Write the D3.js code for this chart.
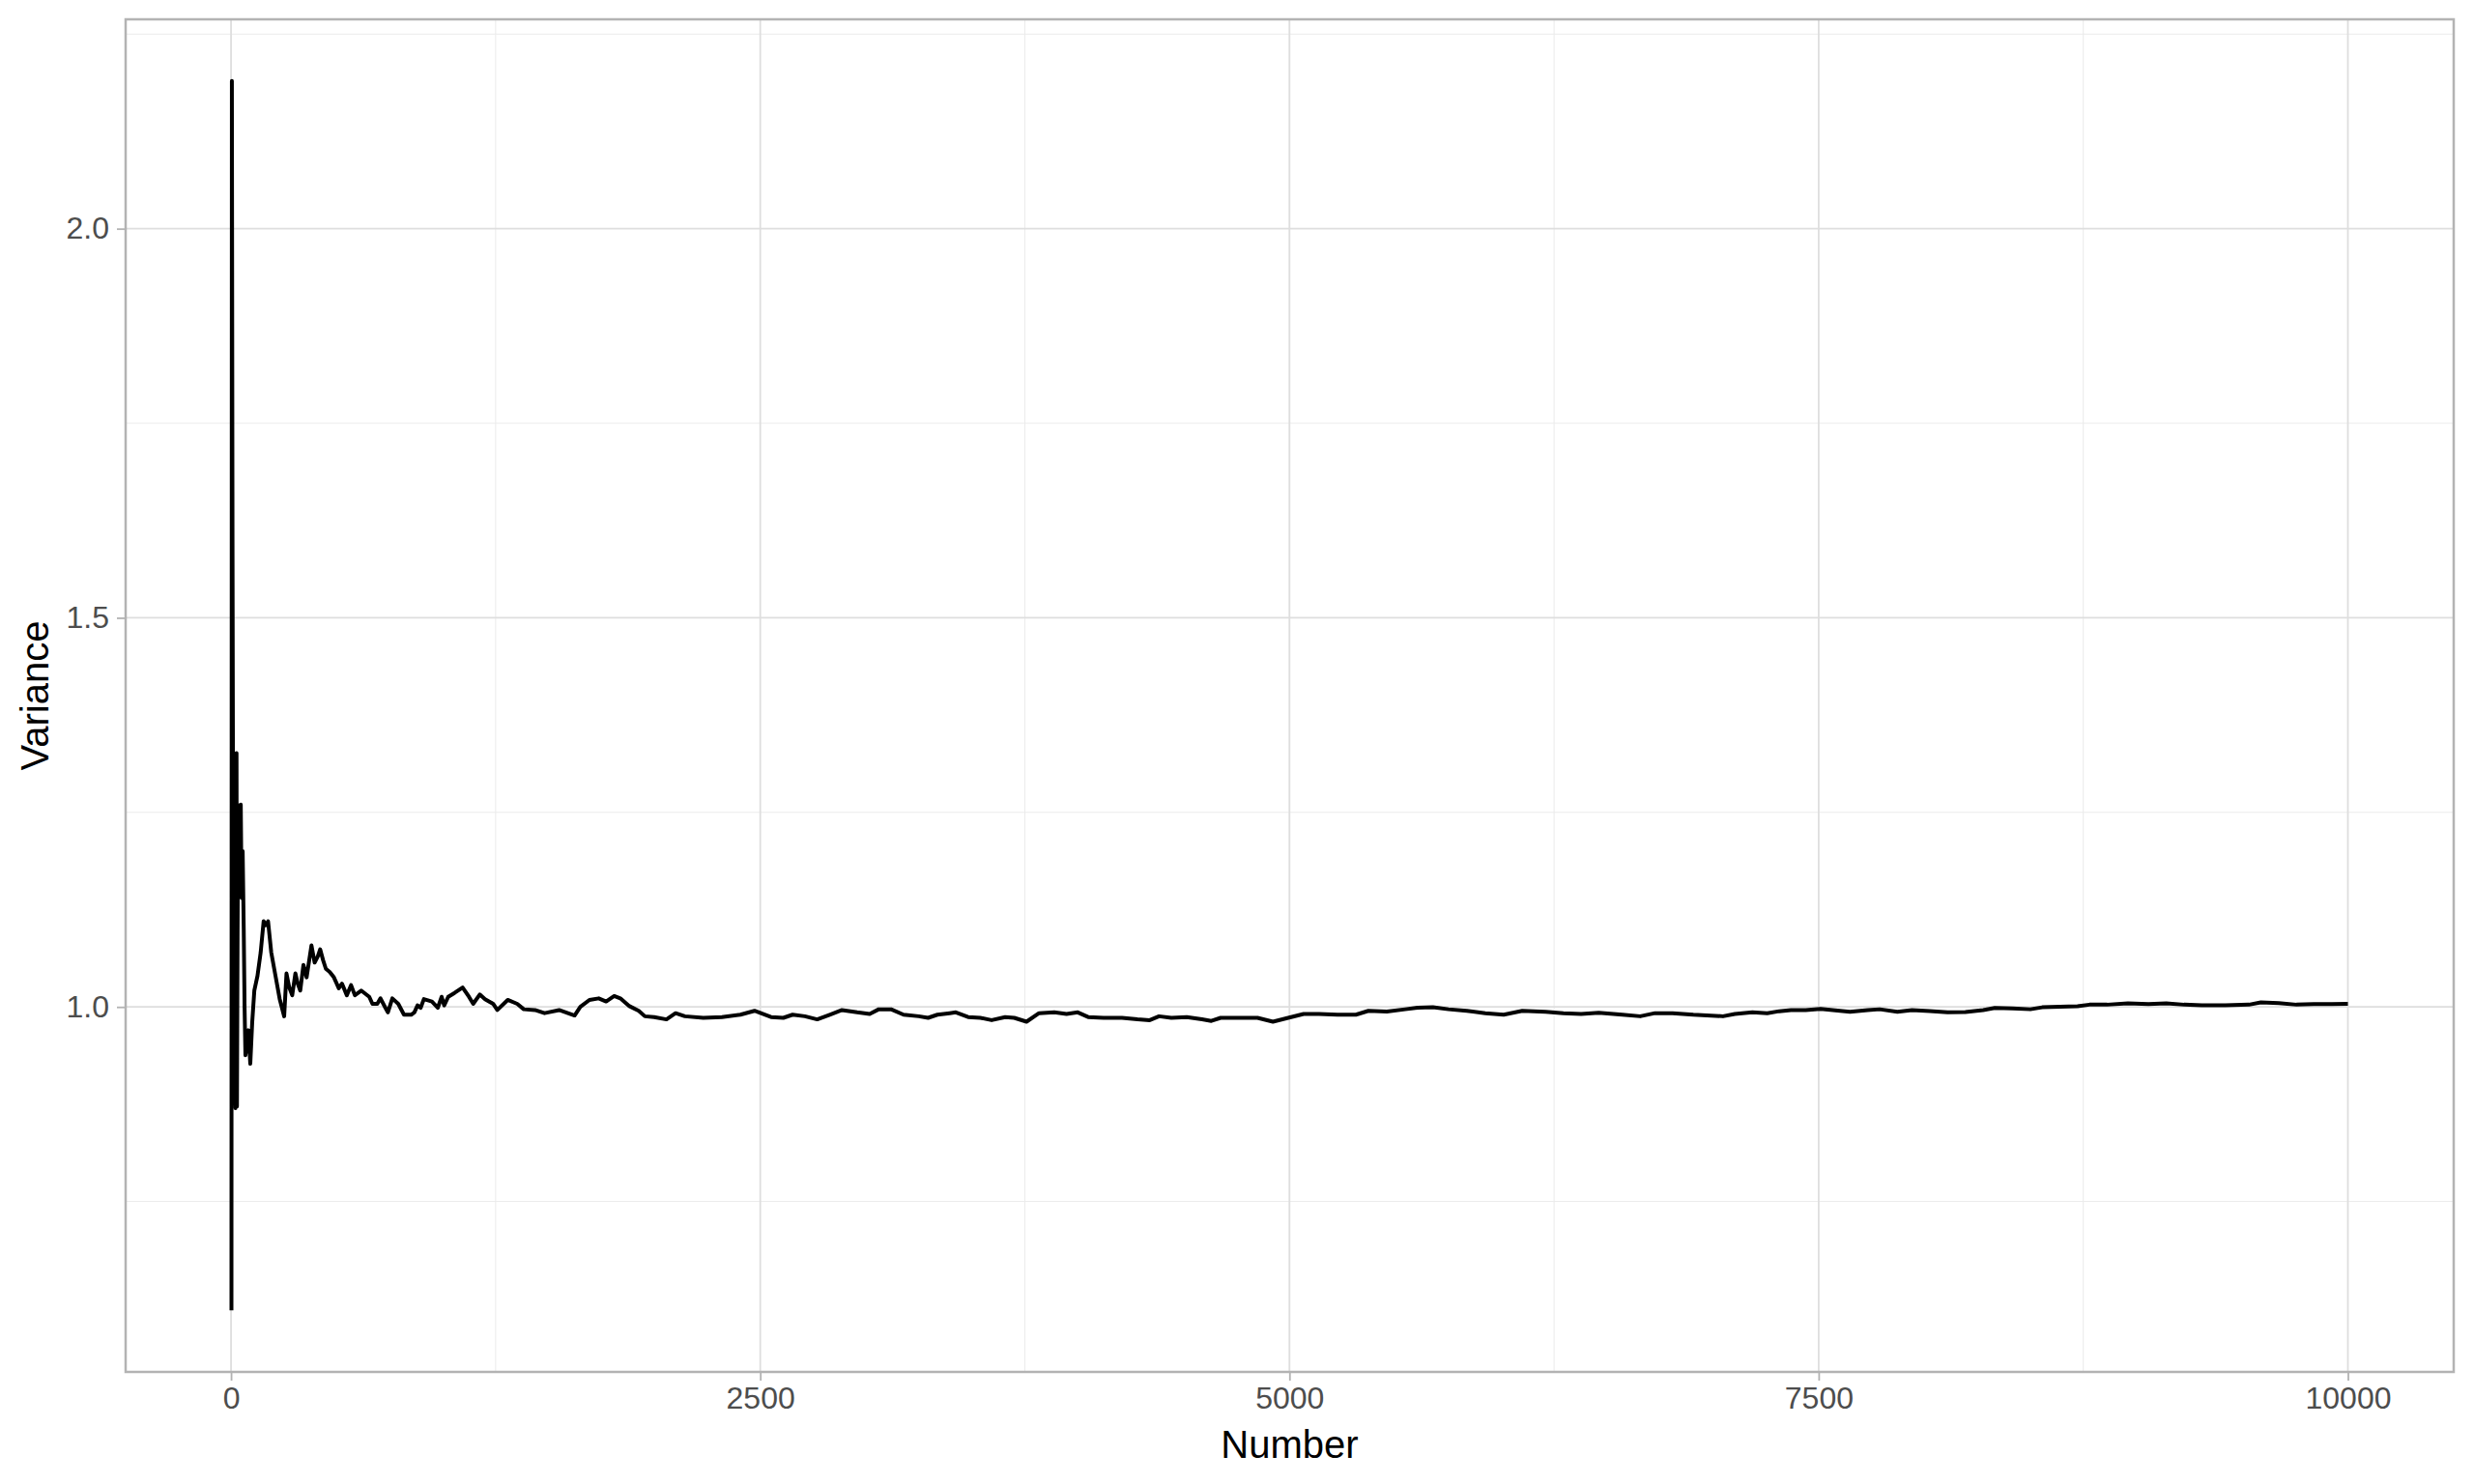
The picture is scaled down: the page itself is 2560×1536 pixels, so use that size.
<!DOCTYPE html>
<html>
<head>
<meta charset="utf-8">
<script src="https://cdn.jsdelivr.net/npm/d3@7"></script>
<style>
  body { margin: 0; background: #fff; }
  text { font-family: "Liberation Sans", Arial, sans-serif; }
</style>
</head>
<body>
<div id="chart"></div>
<script>
// Data: running variance vs number of draws
var number = [2, 4, 7, 10, 13, 17, 21, 24, 26, 28, 31, 34, 38, 42, 46, 50, 55, 60, 64, 68,
  75, 82, 91, 100, 110, 125, 140, 154, 165, 175, 190, 210, 230, 251, 262, 275, 289, 304, 315, 327,
  342, 357, 380, 395, 410, 421, 435, 448, 466, 486, 509, 524, 547, 567, 585, 615, 653, 668, 691, 706,
  729, 741, 762, 790, 817, 851, 866, 881, 896, 911, 949, 977, 995, 1007, 1026, 1056, 1094, 1124, 1144, 1175,
  1200, 1238, 1258, 1307, 1352, 1383, 1436, 1481, 1550, 1623, 1650, 1693, 1737, 1772, 1810, 1839, 1882, 1926, 1955, 1999,
  2057, 2100, 2144, 2231, 2319, 2406, 2473, 2551, 2609, 2653, 2711, 2769, 2828, 2886, 2958, 3017, 3060, 3118, 3177, 3249,
  3293, 3337, 3395, 3424, 3482, 3540, 3593, 3657, 3700, 3758, 3817, 3889, 3947, 4000, 4049, 4122, 4209, 4282, 4340, 4384,
  4442, 4515, 4587, 4631, 4675, 4762, 4849, 4922, 4994, 5067, 5140, 5227, 5314, 5373, 5460, 5547, 5605, 5678, 5751, 5838,
  5925, 6012, 6100, 6210, 6294, 6378, 6461, 6573, 6657, 6727, 6810, 6908, 7048, 7104, 7187, 7257, 7313, 7369, 7439, 7509,
  7578, 7648, 7732, 7788, 7872, 7941, 8025, 8109, 8193, 8277, 8332, 8416, 8500, 8556, 8640, 8723, 8779, 8863, 8961, 9058,
  9142, 9226, 9310, 9421, 9533, 9589, 9673, 9757, 9840, 9924, 10000];

var variance = [0.61, 2.19, 1.60, 1.20, 1.05, 0.92, 0.87, 1.25, 1.326, 0.872, 1.10, 1.259, 1.22, 1.19, 1.26, 1.14, 1.20, 1.10, 1.00, 0.938,
  0.95, 0.97, 0.927, 0.98, 1.021, 1.04, 1.07, 1.110, 1.105, 1.110, 1.07, 1.04, 1.01, 0.988, 1.043, 1.025, 1.015, 1.043, 1.030, 1.021,
  1.054, 1.038, 1.079, 1.057, 1.065, 1.074, 1.060, 1.049, 1.045, 1.038, 1.024, 1.030, 1.015, 1.028, 1.015, 1.021, 1.013, 1.004, 1.004, 1.011,
  0.999, 0.993, 1.011, 1.004, 0.990, 0.990, 0.993, 1.002, 0.999, 1.010, 1.007, 0.999, 1.013, 1.002, 1.013, 1.018, 1.025, 1.013, 1.004, 1.016,
  1.010, 1.004, 0.996, 1.009, 1.004, 0.997, 0.996, 0.992, 0.996, 0.989, 1.000, 1.009, 1.011, 1.007, 1.014, 1.011, 1.001, 0.995, 0.988, 0.987,
  0.984, 0.992, 0.988, 0.986, 0.987, 0.990, 0.995, 0.987, 0.986, 0.990, 0.988, 0.984, 0.990, 0.996, 0.993, 0.991, 0.997, 0.997, 0.990, 0.988,
  0.986, 0.990, 0.992, 0.993, 0.987, 0.986, 0.983, 0.987, 0.986, 0.981, 0.992, 0.993, 0.991, 0.993, 0.987, 0.986, 0.986, 0.984, 0.983, 0.988,
  0.986, 0.987, 0.984, 0.982, 0.986, 0.986, 0.986, 0.981, 0.986, 0.991, 0.991, 0.990, 0.990, 0.995, 0.994, 0.997, 0.999, 0.9996, 0.997, 0.995,
  0.992, 0.990, 0.995, 0.9938, 0.992, 0.991, 0.9925, 0.990, 0.988, 0.992, 0.992, 0.990, 0.988, 0.991, 0.993, 0.992, 0.9945, 0.996, 0.996, 0.9975,
  0.9955, 0.9938, 0.996, 0.997, 0.9938, 0.996, 0.9946, 0.993, 0.9933, 0.996, 0.9987, 0.998, 0.997, 0.9995, 1.0004, 1.0008, 1.0029, 1.0029, 1.0045, 1.0037,
  1.0045, 1.0029, 1.002, 1.002, 1.0029, 1.0058, 1.005, 1.0029, 1.0037, 1.0037, 1.004];

var xMajor = [0, 2500, 5000, 7500, 10000];
var xMinor = [1250, 3750, 6250, 8750];
var yMajor = [1.0, 1.5, 2.0];
var yMinor = [0.75, 1.25, 1.75, 2.25];

var data = number.map(function(n, i) { return {n: n, v: variance[i]}; });

var svgWidth = 2560;
var svgHeight = 1536;
var margin = {top: 20, right: 21, bottom: 116, left: 130};
var width = svgWidth - margin.left - margin.right;
var height = svgHeight - margin.top - margin.bottom;

var svg = d3.select("#chart")
  .append("svg")
  .attr("width", svgWidth)
  .attr("height", svgHeight);

var chartGroup = svg.append("g")
  .attr("transform", `translate(${margin.left}, ${margin.top})`);

// ggplot-style 5% expansion
function expand(ext) {
  var pad = (ext[1] - ext[0]) * 0.05;
  return [ext[0] - pad, ext[1] + pad];
}

var xScale = d3.scaleLinear()
  .domain(expand(d3.extent(number)))
  .range([0, width]);

var yScale = d3.scaleLinear()
  .domain(expand(d3.extent(variance)))
  .range([height, 0]);

// gridlines
chartGroup.append("g").selectAll("line.xmin")
  .data(xMinor).enter().append("line")
  .attr("x1", d => xScale(d)).attr("x2", d => xScale(d))
  .attr("y1", 0).attr("y2", height)
  .attr("stroke", "#EBEBEB").attr("stroke-width", 1);

chartGroup.append("g").selectAll("line.ymin")
  .data(yMinor).enter().append("line")
  .attr("x1", 0).attr("x2", width)
  .attr("y1", d => yScale(d)).attr("y2", d => yScale(d))
  .attr("stroke", "#EBEBEB").attr("stroke-width", 1);

chartGroup.append("g").selectAll("line.xmaj")
  .data(xMajor).enter().append("line")
  .attr("x1", d => xScale(d)).attr("x2", d => xScale(d))
  .attr("y1", 0).attr("y2", height)
  .attr("stroke", "#DEDEDE").attr("stroke-width", 1.8);

chartGroup.append("g").selectAll("line.ymaj")
  .data(yMajor).enter().append("line")
  .attr("x1", 0).attr("x2", width)
  .attr("y1", d => yScale(d)).attr("y2", d => yScale(d))
  .attr("stroke", "#DEDEDE").attr("stroke-width", 1.8);

// the line
var line = d3.line()
  .x(d => xScale(d.n))
  .y(d => yScale(d.v));

chartGroup.append("path")
  .datum(data)
  .attr("d", line)
  .attr("fill", "none")
  .attr("stroke", "#000")
  .attr("stroke-width", 4)
  .attr("stroke-linejoin", "round");

// axes
var xAxis = d3.axisBottom(xScale).tickValues(xMajor).tickFormat(d3.format("d"))
  .tickSize(9).tickPadding(6);
var yAxis = d3.axisLeft(yScale).tickValues(yMajor).tickFormat(d3.format(".1f"))
  .tickSize(9).tickPadding(8);

var gx = chartGroup.append("g").attr("transform", `translate(0, ${height})`).call(xAxis);
var gy = chartGroup.append("g").call(yAxis);

[gx, gy].forEach(function(g) {
  g.select(".domain").remove();
  g.selectAll(".tick line").attr("stroke", "#B3B3B3").attr("stroke-width", 1.8);
  g.selectAll(".tick text")
    .attr("fill", "#4D4D4D")
    .attr("font-size", "32px")
    .attr("font-family", "Liberation Sans, Arial, sans-serif");
});

// panel border
chartGroup.append("rect")
  .attr("x", 0).attr("y", 0)
  .attr("width", width).attr("height", height)
  .attr("fill", "none")
  .attr("stroke", "#B3B3B3")
  .attr("stroke-width", 2.5);

// axis titles
chartGroup.append("text")
  .attr("x", width / 2)
  .attr("y", height + 89)
  .attr("text-anchor", "middle")
  .attr("font-size", "40px")
  .attr("fill", "#000")
  .text("Number");

chartGroup.append("text")
  .attr("transform", `translate(${50 - margin.left}, ${height / 2}) rotate(-90)`)
  .attr("text-anchor", "middle")
  .attr("font-size", "40px")
  .attr("fill", "#000")
  .text("Variance");
</script>
</body>
</html>
